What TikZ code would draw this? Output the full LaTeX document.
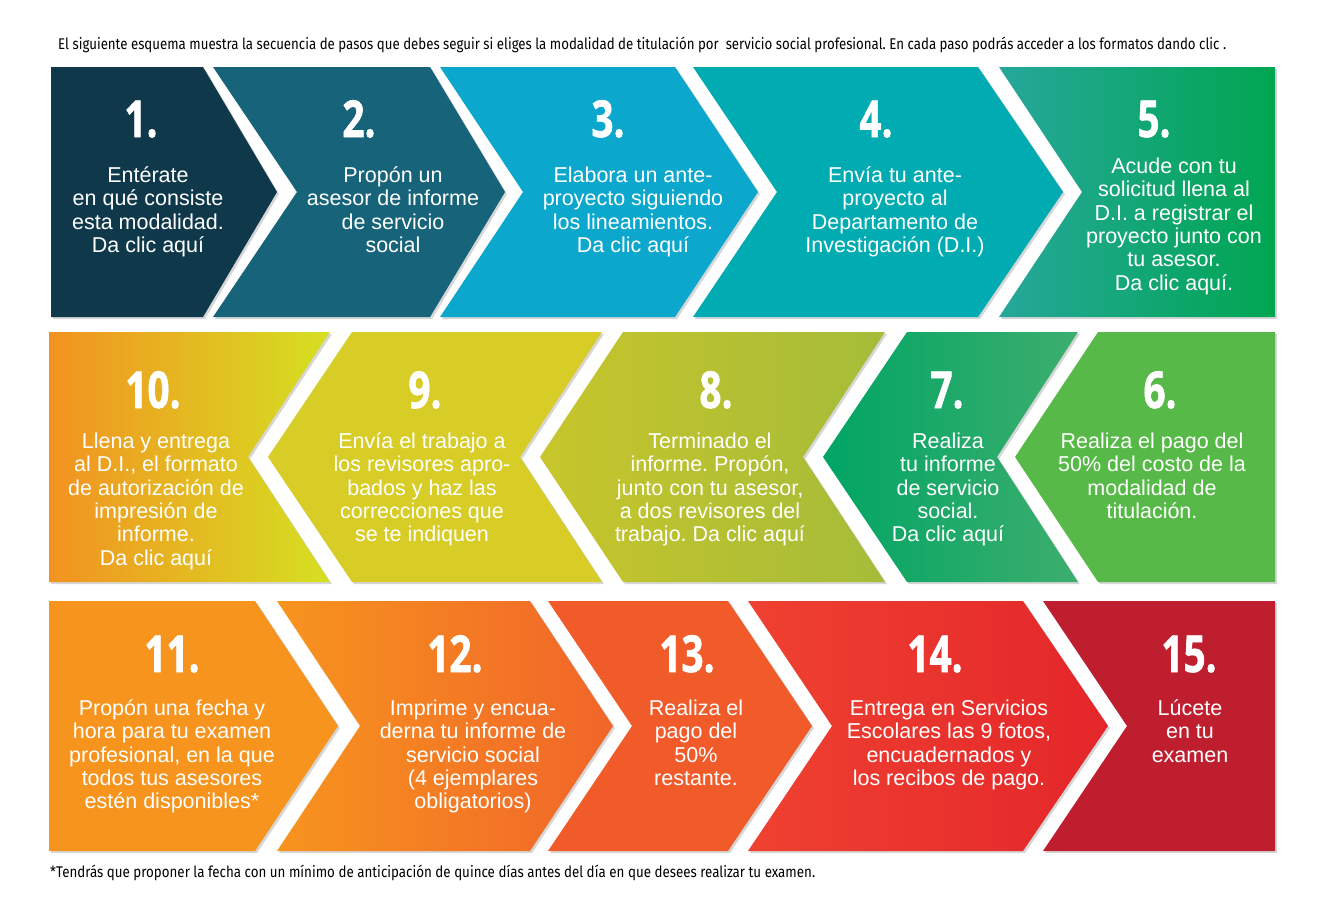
\documentclass[tikz,border=0pt]{standalone}
\usepackage{fontspec}
\setmainfont{Liberation Sans}
\newfontfamily\numfont[FakeStretch=0.76, BoldFeatures={FakeBold=1.2}]{Open Sans}
\newfontfamily\hdrfont{Fira Sans}
\usepackage{graphicx}
\usetikzlibrary{calc}
\frenchspacing
\newlength\fitlen
\newcommand\fitto[2]{\settowidth{\fitlen}{#2}\pgfmathsetmacro\fitratio{#1/\fitlen}\scalebox{\fitratio}[1]{#2}}
\newcommand\fs{\rule{0pt}{20pt}}
\definecolor{cA}{HTML}{0F394B}
\definecolor{cB}{HTML}{16637A}
\definecolor{cC}{HTML}{0BA7CD}
\definecolor{cD}{HTML}{00ABB2}
\definecolor{cEl}{HTML}{26A79A}
\definecolor{cEr}{HTML}{00A651}
\definecolor{cJl}{HTML}{F39221}
\definecolor{cJr}{HTML}{D5E021}
\definecolor{cI}{HTML}{D8CD27}
\definecolor{cHl}{HTML}{C7C52B}
\definecolor{cHr}{HTML}{A5BC39}
\definecolor{cGl}{HTML}{00A564}
\definecolor{cGr}{HTML}{3DAE6E}
\definecolor{cF}{HTML}{57B947}
\definecolor{cK}{HTML}{F7941D}
\definecolor{cLl}{HTML}{F7941E}
\definecolor{cLr}{HTML}{F16529}
\definecolor{cM}{HTML}{F15A29}
\definecolor{cNl}{HTML}{EF4131}
\definecolor{cNr}{HTML}{E4262A}
\definecolor{cO}{HTML}{BE1E2E}
\newcommand\chv[7]{% #1 style, #2 top, #3 bottom, #4 Lt, #5 Lm, #6 Rt, #7 Rm
  \pgfmathsetmacro\midy{(#2+#3)/2}
  \fill[black,opacity=.16,xshift=2pt,yshift=-2pt] (#4,#2) -- (#6,#2) -- (#7,\midy) -- (#6,#3) -- (#4,#3) -- (#5,\midy) -- cycle;
  \path[#1] (#4,#2) -- (#6,#2) -- (#7,\midy) -- (#6,#3) -- (#4,#3) -- (#5,\midy) -- cycle;
}
\tikzset{
  num/.style={font=\numfont\bfseries\fontsize{51}{51}\selectfont, text=white, anchor=base, inner sep=0pt},
  txt/.style={font=\fontsize{21.5}{23.4}\selectfont, text=white, align=center, anchor=north, inner sep=0pt},
  grad/.style 2 args={left color=#1, right color=#2, shading=axis},
}
\begin{document}
\begin{tikzpicture}[x=1pt,y=-1pt]
\useasboundingbox (0,0) rectangle (1325,905);
\fill[white] (0,0) rectangle (1325,905);
% header
\node[anchor=base west, inner sep=0pt, font=\hdrfont\fontsize{15.5}{15.5}\selectfont] (hdr) at (58,49)
  {\fitto{1168}{El siguiente esquema muestra la secuencia de pasos que debes seguir si eliges la modalidad de titulación por \ servicio social profesional. En cada paso podrás acceder a los formatos dando clic .}};
% row 1
\chv{fill=cA}{67}{317}{51}{51}{203}{277}
\chv{fill=cB}{67}{317}{213}{297}{430}{505}
\chv{fill=cC}{67}{317}{440}{523}{675}{758}
\chv{fill=cD}{67}{317}{693}{777}{978}{1063}
\chv{grad={cEl}{cEr}}{67}{317}{999}{1082}{1275}{1275}
% row 2
\chv{grad={cJl}{cJr}}{332}{582}{49}{49}{330}{248}
\chv{fill=cI}{332}{582}{352}{268}{602}{520}
\chv{grad={cHl}{cHr}}{332}{582}{623}{540}{885}{803}
\chv{grad={cGl}{cGr}}{332}{582}{907}{823}{1078}{997}
\chv{fill=cF}{332}{582}{1098}{1015}{1275}{1275}
% row 3
\chv{fill=cK}{601}{851}{49}{49}{255}{338}
\chv{grad={cLl}{cLr}}{601}{851}{277}{360}{530}{613}
\chv{fill=cM}{601}{851}{548}{632}{728}{812}
\chv{grad={cNl}{cNr}}{601}{851}{748}{832}{1023}{1108}
\chv{fill=cO}{601}{851}{1043}{1127}{1275}{1275}
% numbers
\node[num] (n1) at (141,137) {1.};
\node[num] (n2) at (359,137) {2.};
\node[num] (n3) at (608,137) {3.};
\node[num] (n4) at (876,137) {4.};
\node[num] (n5) at (1154,137) {5.};
\node[num] (n10) at (153,408) {10.};
\node[num] (n9) at (425,408) {9.};
\node[num] (n8) at (716,408) {8.};
\node[num] (n7) at (947,408) {7.};
\node[num] (n6) at (1160,408) {6.};
\node[num] (n11) at (172,672) {11.};
\node[num] (n12) at (455,672) {12.};
\node[num] (n13) at (687,672) {13.};
\node[num] (n14) at (935,672) {14.};
\node[num] (n15) at (1189,672) {15.};
% texts
\node[txt] (t1) at (148,162) {\fs Entérate\\en qué consiste\\esta modalidad.\\Da clic aquí};
\node[txt] (t2) at (393,162) {\fs Propón un\\asesor de informe\\de servicio\\social};
\node[txt] (t3) at (633,162) {\fs Elabora un ante-\\proyecto siguiendo\\los lineamientos.\\Da clic aquí};
\node[txt] (t4) at (895,162) {\fs Envía tu ante-\\proyecto al\\Departamento de\\Investigación (D.I.)};
\node[txt] (t5) at (1174,153) {\fs Acude con tu\\solicitud llena al\\D.I. a registrar el\\proyecto junto con\\tu asesor.\\Da clic aquí.};
\node[txt] (t10) at (156,428) {\fs Llena y entrega\\al D.I., el formato\\de autorización de\\impresión de\\informe.\\Da clic aquí};
\node[txt] (t9) at (422,428) {\fs Envía el trabajo a\\los revisores apro-\\bados y haz las\\correcciones que\\se te indiquen};
\node[txt] (t8) at (710,428) {\fs Terminado el\\informe. Propón,\\junto con tu asesor,\\a dos revisores del\\trabajo. Da clic aquí};
\node[txt] (t7) at (948,428) {\fs Realiza\\tu informe\\de servicio\\social.\\Da clic aquí};
\node[txt] (t6) at (1152,428) {\fs Realiza el pago del\\50\% del costo de la\\modalidad de\\titulación.};
\node[txt] (t11) at (172,695) {\fs Propón una fecha y\\hora para tu examen\\profesional, en la que\\todos tus asesores\\estén disponibles*};
\node[txt] (t12) at (473,695) {\fs Imprime y encua-\\derna tu informe de\\servicio social\\(4 ejemplares\\obligatorios)};
\node[txt] (t13) at (696,695) {\fs Realiza el\\pago del\\50\%\\restante.};
\node[txt] (t14) at (949,695) {\fs Entrega en Servicios\\Escolares las 9 fotos,\\encuadernados y\\los recibos de pago.};
\node[txt] (t15) at (1190,695) {\fs Lúcete\\en tu\\examen};
% footer
\node[anchor=base west, inner sep=0pt, font=\hdrfont\fontsize{15.5}{15.5}\selectfont] (ftr) at (50,877)
  {\fitto{765}{*Tendrás que proponer la fecha con un mínimo de anticipación de quince días antes del día en que desees realizar tu examen.}};
\end{tikzpicture}
\end{document}
